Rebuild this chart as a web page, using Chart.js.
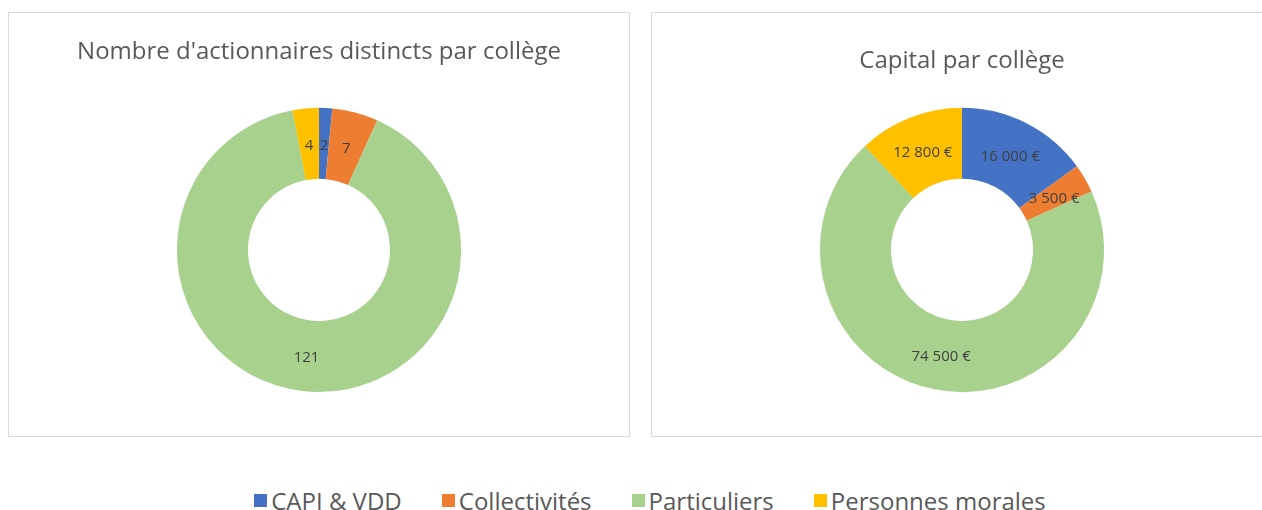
<!DOCTYPE html>
<html>
<head>
<meta charset="utf-8">
<script src="https://cdn.jsdelivr.net/npm/chart.js@4/dist/chart.umd.min.js"></script>
<style>
  body { margin: 0; background: #fff; font-family: "Open Sans", sans-serif; }
  .box { position: absolute; top: 12px; width: 622px; height: 425px; border: 1px solid #d9d9d9; box-sizing: border-box; }
  .box canvas { position: absolute; left: 0; top: 0; }
  #legend { position: absolute; left: 0; top: 484px; width: 1300px; display: flex; justify-content: center; font-size: 24px; color: #595959; }
  #legend span.item { display: flex; align-items: center; margin: 0 20px; }
  #legend span.sw { width: 13px; height: 13px; margin-right: 4px; display: inline-block; }
</style>
</head>
<body>
<div class="box" style="left:8px"><canvas id="countChart" width="620" height="423"></canvas></div>
<div class="box" style="left:651px"><canvas id="capitalChart" width="620" height="423"></canvas></div>
<div id="legend"></div>
<script>
// data
const colleges = ["CAPI & VDD", "Collectivités", "Particuliers", "Personnes morales"];
const shareholders = [2, 7, 121, 4];
const capital = [16000, 3500, 74500, 12800];
const colors = ["#4472C4", "#ED7D31", "#A9D18E", "#FFC000"];

function euro(v) {
  return String(v).replace(/\B(?=(\d{3})+(?!\d))/g, " ") + " €";
}

// labels inside slices
const sliceLabels = {
  id: "sliceLabels",
  afterDatasetsDraw(chart, args, opts) {
    const ctx = chart.ctx;
    const meta = chart.getDatasetMeta(0);
    const values = chart.data.datasets[0].data;
    ctx.save();
    ctx.font = "15px 'Open Sans'";
    ctx.fillStyle = "#404040";
    ctx.textAlign = "center";
    ctx.textBaseline = "middle";
    meta.data.forEach((arc, i) => {
      const p = arc.tooltipPosition();
      ctx.fillText(opts.currency ? euro(values[i]) : String(values[i]), p.x, p.y + 2);
    });
    ctx.restore();
  }
};

function renderChart(canvasId, title, values, currency, titleTop, titleBottom) {
  new Chart(document.getElementById(canvasId), {
    type: "doughnut",
    data: {
      labels: colleges,
      datasets: [{ data: values, backgroundColor: colors, borderWidth: 0 }]
    },
    options: {
      responsive: false,
      animation: false,
      cutout: "50%",
      layout: { padding: { top: 17, bottom: 44 } },
      plugins: {
        legend: { display: false },
        tooltip: { enabled: false },
        title: {
          display: true,
          text: title,
          color: "#595959",
          font: { family: "Open Sans", size: 24, weight: "normal" },
          padding: { top: titleTop, bottom: titleBottom }
        },
        sliceLabels: { currency: currency }
      }
    },
    plugins: [sliceLabels]
  });
}

renderChart("countChart", "Nombre d'actionnaires distincts par collège", shareholders, false, 8, 41);
renderChart("capitalChart", "Capital par collège", capital, true, 17, 32);

// shared legend
const legend = document.getElementById("legend");
colleges.forEach((name, i) => {
  const item = document.createElement("span");
  item.className = "item";
  const sw = document.createElement("span");
  sw.className = "sw";
  sw.style.background = colors[i];
  item.appendChild(sw);
  item.appendChild(document.createTextNode(name));
  legend.appendChild(item);
});
</script>
</body>
</html>
